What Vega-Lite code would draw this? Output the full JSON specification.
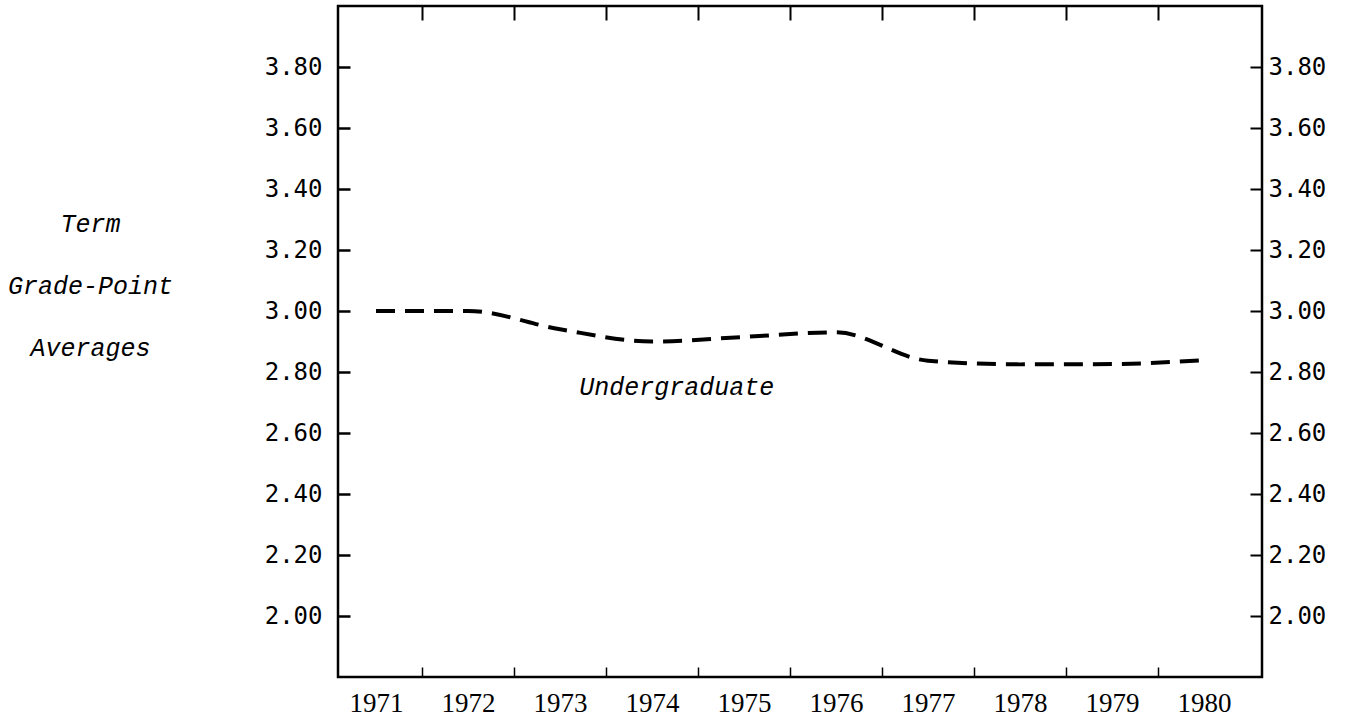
{
  "$schema": "https://vega.github.io/schema/vega-lite/v6.json",
  "width": 924,
  "height": 671,
  "autosize": {"type": "none"},
  "padding": {"left": 338, "top": 6, "right": 85, "bottom": 43},
  "background": "white",
  "config": {
    "view": {"stroke": "black", "strokeWidth": 2.5},
    "axis": {"domain": false, "grid": false, "tickColor": "black", "labelColor": "black", "titleColor": "black", "labelFlush": false, "labelOverlap": false}
  },
  "resolve": {"axis": {"x": "independent", "y": "independent"}},
  "layer": [
    {
      "data": {"values": [
        {"year": 1971, "gpa": 3.00},
        {"year": 1972, "gpa": 3.00},
        {"year": 1973, "gpa": 2.94},
        {"year": 1974, "gpa": 2.90},
        {"year": 1975, "gpa": 2.915},
        {"year": 1976, "gpa": 2.93},
        {"year": 1977, "gpa": 2.837},
        {"year": 1978, "gpa": 2.825},
        {"year": 1979, "gpa": 2.826},
        {"year": 1980, "gpa": 2.839}
      ]},
      "mark": {"type": "line", "stroke": "black", "strokeWidth": 4, "strokeDash": [19, 10], "interpolate": "monotone"},
      "encoding": {
        "x": {
          "field": "year", "type": "quantitative",
          "scale": {"domain": [1970.587, 1980.63], "nice": false, "zero": false},
          "axis": {
            "orient": "bottom", "title": null,
            "values": [1971, 1972, 1973, 1974, 1975, 1976, 1977, 1978, 1979, 1980],
            "format": "d",
            "tickOffset": 46, "labelOffset": -46,
            "tickSize": -10, "tickWidth": 1.5,
            "tickOpacity": {"condition": {"test": "datum.value == 1980", "value": 0}, "value": 1},
            "labelPadding": 23, "labelFont": "Liberation Serif", "labelFontSize": 27, "labelAngle": 0
          }
        },
        "y": {
          "field": "gpa", "type": "quantitative",
          "scale": {"domain": [1.8, 4.0], "nice": false, "zero": false},
          "axis": {
            "orient": "left",
            "values": [2.0, 2.2, 2.4, 2.6, 2.8, 3.0, 3.2, 3.4, 3.6, 3.8],
            "format": ".2f",
            "tickSize": -12, "tickWidth": 2.5,
            "labelPadding": 28, "labelFont": "DejaVu Sans Mono", "labelFontSize": 24,
            "title": ["Term", "Grade-Point", "Averages"],
            "titleAngle": 0, "titleAlign": "center", "titleBaseline": "middle",
            "titleX": -248, "titleY": 217, "titleLineHeight": 62,
            "titleFont": "Liberation Mono", "titleFontStyle": "italic", "titleFontWeight": "normal", "titleFontSize": 25
          }
        }
      }
    },
    {
      "data": {"values": [{"year": 1974.27, "gpa": 2.752, "label": "Undergraduate"}]},
      "mark": {"type": "text", "font": "Liberation Mono", "fontStyle": "italic", "fontWeight": "normal", "fontSize": 25, "align": "center", "baseline": "middle", "color": "black"},
      "encoding": {
        "x": {
          "field": "year", "type": "quantitative",
          "scale": {"domain": [1970.587, 1980.63], "nice": false, "zero": false},
          "axis": {
            "orient": "top", "title": null, "labels": false,
            "values": [1971.5, 1972.5, 1973.5, 1974.5, 1975.5, 1976.5, 1977.5, 1978.5, 1979.5],
            "tickSize": -14, "tickWidth": 2
          }
        },
        "y": {
          "field": "gpa", "type": "quantitative",
          "scale": {"domain": [1.8, 4.0], "nice": false, "zero": false},
          "axis": {
            "orient": "right", "title": null,
            "values": [2.0, 2.2, 2.4, 2.6, 2.8, 3.0, 3.2, 3.4, 3.6, 3.8],
            "format": ".2f",
            "tickSize": -12, "tickWidth": 2,
            "labelPadding": 18, "labelFont": "DejaVu Sans Mono", "labelFontSize": 24
          }
        },
        "text": {"field": "label"}
      }
    }
  ]
}
